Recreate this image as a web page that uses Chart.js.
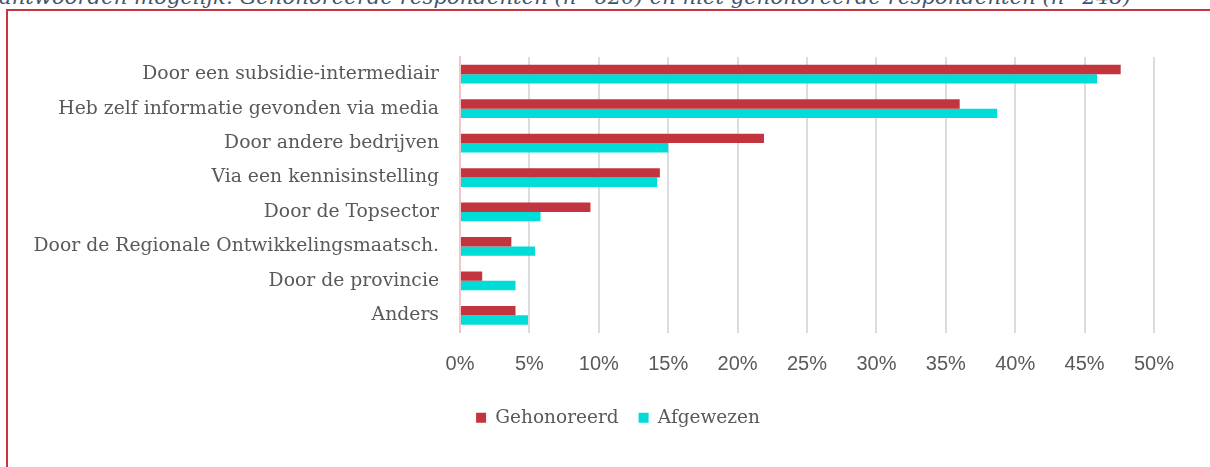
<!DOCTYPE html>
<html><head><meta charset="utf-8">
<script src="https://cdn.jsdelivr.net/npm/chart.js@4.4.1/dist/chart.umd.min.js"></script>
<style>
html,body{margin:0;padding:0;background:#fff;overflow:hidden;}
body{width:1210px;height:467px;position:relative;}
#cap{position:absolute;left:-1px;top:-14px;font-family:"DejaVu Serif";font-style:italic;font-size:21.2px;line-height:21px;color:#44546a;white-space:nowrap;}
#frame{position:absolute;left:6px;top:9px;width:1300px;height:600px;border:2px solid #c8343f;box-sizing:border-box;}
#wrap{position:absolute;left:0;top:0;width:1210px;height:467px;}
</style></head><body>
<div id="cap">antwoorden mogelijk. Gehonoreerde respondenten (n=620) en niet gehonoreerde respondenten (n=248)</div>
<div id="frame"></div>
<div id="wrap"><canvas id="c" width="1210" height="467"></canvas></div>
<script>
const categories = [
  "Door een subsidie-intermediair",
  "Heb zelf informatie gevonden via media",
  "Door andere bedrijven",
  "Via een kennisinstelling",
  "Door de Topsector",
  "Door de Regionale Ontwikkelingsmaatsch.",
  "Door de provincie",
  "Anders"
];
const seriesNames = ["Gehonoreerd", "Afgewezen"];
const gehonoreerd = [47.6, 36.0, 21.9, 14.4, 9.4, 3.7, 1.6, 4.0];
const afgewezen = [45.9, 38.7, 15.0, 14.2, 5.8, 5.4, 4.0, 4.9];
const xMin = 0, xMax = 50, xStep = 5;

const RED = "#c3343f", CYAN = "#00dcd8";
const serif = "'DejaVu Serif'";

new Chart(document.getElementById("c"), {
  type: "bar",
  data: {
    labels: categories,
    datasets: [
      {label: seriesNames[0], data: gehonoreerd, backgroundColor: RED, borderWidth: 0, categoryPercentage: 0.545, barPercentage: 1},
      {label: seriesNames[1], data: afgewezen, backgroundColor: CYAN, borderWidth: 0, categoryPercentage: 0.545, barPercentage: 1}
    ]
  },
  options: {
    indexAxis: "y",
    responsive: false,
    devicePixelRatio: 1,
    animation: false,
    layout: {padding: {top: 57, left: 82, right: 56, bottom: 30}},
    scales: {
      x: {
        min: xMin, max: xMax,
        ticks: {stepSize: xStep, callback: v => v + "%", font: {family: "'Liberation Sans'", size: 20}, color: "#595959", padding: 20},
        grid: {color: ctx => (ctx.tick && ctx.tick.value === 0) ? "rgba(0,0,0,0)" : "#dcdcdc", lineWidth: 2, drawTicks: false},
        border: {display: false},
        afterFit: s => { s.height -= 8; }
      },
      y: {
        ticks: {font: {family: serif, size: 18.8}, color: "#595959", padding: 21},
        grid: {display: false, drawTicks: false},
        border: {display: true, color: "#f2c6c8", width: 2},
        afterFit: s => { s.width = 378; },
        afterUpdate: s => { s._computeLabelArea = () => undefined; }
      }
    },
    plugins: {
      legend: {
        position: "bottom",
        labels: {boxWidth: 10, boxHeight: 10, font: {family: serif, size: 18.5}, color: "#595959", padding: 20}
      },
      tooltip: {enabled: false}
    }
  }
});
</script>
</body></html>
